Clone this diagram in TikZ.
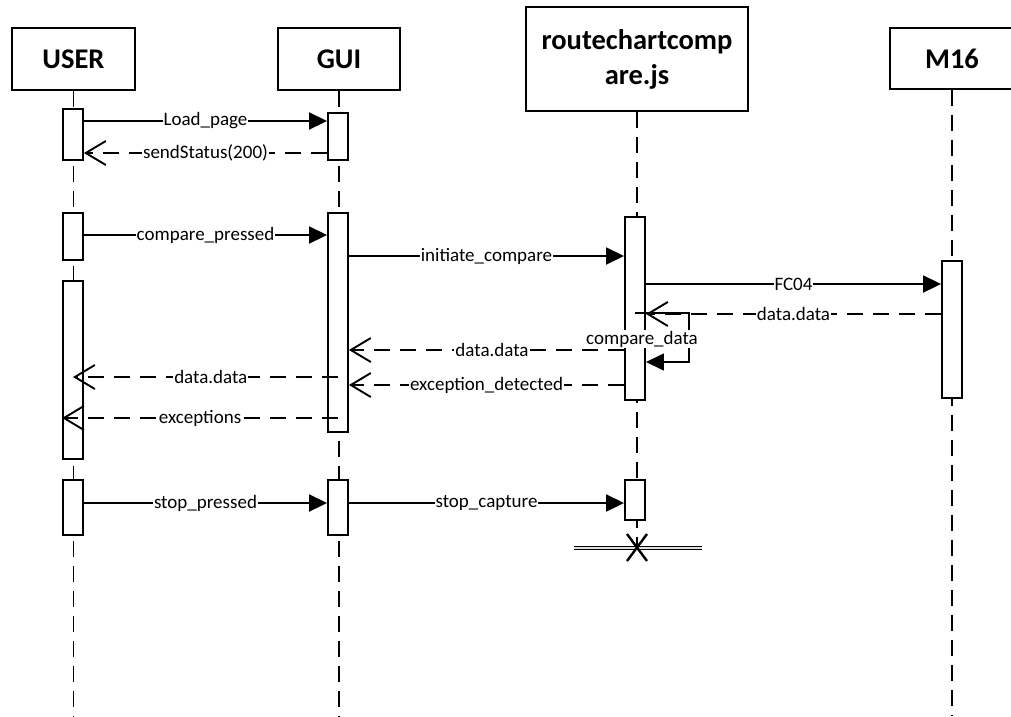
\documentclass[tikz,border=0pt]{standalone}
\usepackage{fontspec}
\setmainfont{Carlito}
\usetikzlibrary{arrows.meta,calc}

\tikzset{
  head/.style={draw, rectangle, fill=white, inner sep=0pt, align=center,
    font=\bfseries\fontsize{28.5}{35}\selectfont},
  act/.style={draw, rectangle, fill=white, inner sep=0pt, minimum width=20pt},
  life/.style={dash pattern=on 16pt off 9pt},
  msg/.style={-{Triangle[length=18pt,width=17pt]}},
  reply/.style={dash pattern=on 16pt off 10pt,
    -{Straight Barb[length=20pt,width=24pt]}},
  lbl/.style={fill=white, inner xsep=1pt, inner ysep=1pt,
    font=\fontsize{19}{21}\selectfont},
}

\begin{document}
\begin{tikzpicture}[x=1pt, y=-1pt, line width=1.9pt, line join=miter]
\useasboundingbox (0,0) rectangle (1011,716);

% participants
\node[head, minimum width=123pt, minimum height=62pt] (user) at (73.5,59) {USER};
\node[head, minimum width=122pt, minimum height=62pt] (gui) at (339,59) {GUI};
\node[head, minimum width=222pt, minimum height=104pt] (js) at (637,59) {routechartcomp\\are.js};
\node[head, minimum width=124pt, minimum height=61pt] (m16) at (952,58.5) {M16};

% end of the script's lifeline
\coordinate (jsend) at (637,548);

% lifelines
\draw[life] (user.south) -- (user.south |- 0,716);
\draw[life] (gui.south) -- (gui.south |- 0,716);
\draw[life] (js.south) -- (jsend);
\draw[life] (m16.south) -- (m16.south |- 0,716);

% activations
\node[act, minimum height=51pt]  (u1) at (73,134.5) {};
\node[act, minimum height=47pt]  (u2) at (73,236.5) {};
\node[act, minimum height=178pt] (u3) at (73,370) {};
\node[act, minimum height=55pt]  (u4) at (73,507.5) {};
\node[act, minimum height=47pt]  (g1) at (338,136.5) {};
\node[act, minimum height=219pt] (g2) at (338,322.5) {};
\node[act, minimum height=55pt]  (g3) at (338,507.5) {};
\node[act, minimum height=183pt] (j1) at (635,308.5) {};
\node[act, minimum height=40pt]  (j2) at (635,500) {};
\node[act, minimum height=137pt] (m1) at (952,329.5) {};

% messages
\draw[msg] (u1.east |- 0,121) -- node[lbl] {Load\_page} (g1.west |- 0,121);
\draw[reply] (g1.west |- 0,153) -- node[lbl] {sendStatus(200)} (u1.east |- 0,153);
\draw[msg] (u2.east |- 0,235) -- node[lbl] {compare\_pressed} (g2.west |- 0,235);
\draw[msg] (g2.east |- 0,256) -- node[lbl] {initiate\_compare} (j1.west |- 0,256);
\draw[msg] (j1.east |- 0,284) -- node[lbl] {FC04} (m1.west |- 0,284);
\draw[reply] (m1.west |- 0,314) -- node[lbl] {data.data} (j1.east |- 0,314);
\draw[reply] (j1.west |- 0,350) -- node[lbl, pos=0.48] {data.data} (g2.east |- 0,350);
\draw[reply] (j1.west |- 0,385) -- node[lbl] {exception\_detected} (g2.east |- 0,385);
\draw[reply] (g2.center |- 0,377) -- node[lbl, pos=0.48] {data.data} (u3.center |- 0,377);
\draw[reply] (g2.center |- 0,418) -- node[lbl] {exceptions} (u3.west |- 0,418);
\draw[msg] (u4.east |- 0,503) -- node[lbl] {stop\_pressed} (g3.west |- 0,503);
\draw[msg] (g3.east |- 0,503) -- node[lbl] {stop\_capture} (j2.west |- 0,503);

% self call
\draw[msg, line width=1.5pt] (j1.center |- 0,313) -- ++(54,0) |- (j1.east |- 0,362);
\node[lbl] (cmp) at (642,339) {compare\_data};

% destruction
\draw[line width=1pt, double=gray!25, double distance=2.2pt]
  ($(jsend)+(-63,0)$) -- ($(jsend)+(65,0)$);
\draw[line width=2.4pt] ($(jsend)+(-10,-14)$) -- ($(jsend)+(10,13)$)
                         ($(jsend)+(10,-14)$) -- ($(jsend)+(-10,13)$);
\end{tikzpicture}
\end{document}
